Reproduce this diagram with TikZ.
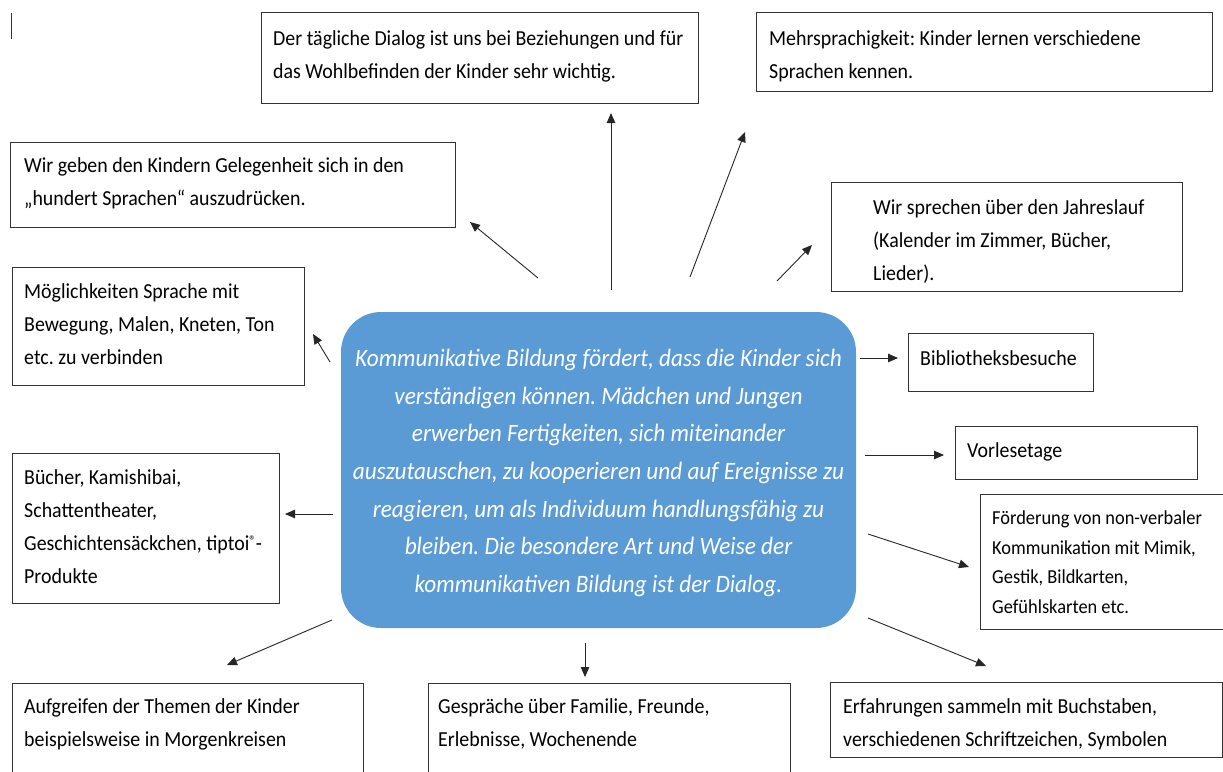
\documentclass[tikz,border=0pt]{standalone}
\usepackage{fontspec}
\setmainfont[FakeStretch=0.93]{Carlito}
\usetikzlibrary{arrows.meta}

\definecolor{hubblue}{HTML}{5B9BD5}
\frenchspacing

\tikzset{
    box/.style={draw=black!80, line width=0.9pt, anchor=north west, inner sep=0pt},
    txt/.style={anchor=north west, align=left, inner sep=0pt, font=\fontsize{21.4}{33}\selectfont},
    smalltxt/.style={txt, font=\fontsize{19.8}{29.5}\selectfont},
    hub/.style={fill=hubblue, rounded corners=40pt, minimum width=515pt, minimum height=316pt, inner sep=0pt},
    hubtxt/.style={inner sep=0pt, text=white, align=center, font=\itshape\fontsize{25}{37.7}\selectfont},
    arr/.style={-{Triangle[length=10pt,width=8.5pt]}, line width=0.9pt, black!85},
}

\begin{document}
\begin{tikzpicture}[x=1pt,y=-1pt]

    % Page area
    \clip (0,0) rectangle (1223,771);
    \draw[line width=0.9pt, black!80] (11,13) -- (11,39);

    % Central box
    \node[hub] (hub) at (598.5,470) {};
    \node[hubtxt] (hub-txt) at ([yshift=-3pt]hub.center) {Kommunikative Bildung fördert, dass die Kinder sich\\
        verständigen können. Mädchen und Jungen\\
        erwerben Fertigkeiten, sich miteinander\\
        auszutauschen, zu kooperieren und auf Ereignisse zu\\
        reagieren, um als Individuum handlungsfähig zu\\
        bleiben. Die besondere Art und Weise der\\
        kommunikativen Bildung ist der Dialog.};

    % Boxes on top
    \node[box, minimum width=437pt, minimum height=91pt] (dialog) at (261,12) {};
    \node[txt] (dialog-txt) at ([shift={(12,18)}]dialog.north west)
        {Der tägliche Dialog ist uns bei Beziehungen und für\\das Wohlbefinden der Kinder sehr wichtig.};

    \node[box, minimum width=456pt, minimum height=79pt] (lang) at (756,12) {};
    \node[txt] (lang-txt) at ([shift={(13,18)}]lang.north west)
        {Mehrsprachigkeit: Kinder lernen verschiedene\\Sprachen kennen.};

    % Boxes on the left
    \node[box, minimum width=445pt, minimum height=85pt] (hundred) at (10,142) {};
    \node[txt] (hundred-txt) at ([shift={(14,15)}]hundred.north west)
        {Wir geben den Kindern Gelegenheit sich in den\\„hundert Sprachen“ auszudrücken.};

    \node[box, minimum width=292pt, minimum height=118pt] (motion) at (12,267) {};
    \node[txt] (motion-txt) at ([shift={(12,16)}]motion.north west)
        {Möglichkeiten Sprache mit\\Bewegung, Malen, Kneten, Ton\\etc. zu verbinden};

    \node[box, minimum width=267pt, minimum height=150pt] (books) at (12,453) {};
    \node[txt] (books-txt) at ([shift={(12,16)}]books.north west)
        {Bücher, Kamishibai,\\Schattentheater,\\Geschichtensäckchen, tiptoi{\fontsize{14}{14}\selectfont\raisebox{5pt}{®}}-\\Produkte};

    % Boxes on the right
    \node[box, minimum width=351pt, minimum height=109pt] (year) at (831,182) {};
    \node[txt] (year-txt) at ([shift={(42,17)}]year.north west)
        {Wir sprechen über den Jahreslauf\\(Kalender im Zimmer, Bücher,\\Lieder).};

    \node[box, minimum width=185pt, minimum height=58pt] (library) at (908,333) {};
    \node[txt] (library-txt) at ([shift={(12,17)}]library.north west) {Bibliotheksbesuche};

    \node[box, minimum width=242pt, minimum height=53pt] (reading) at (955,426) {};
    \node[txt] (reading-txt) at ([shift={(12,16)}]reading.north west) {Vorlesetage};

    \node[box, minimum width=260pt, minimum height=135pt] (signs) at (980,494) {};
    \node[smalltxt] (signs-txt) at ([shift={(12,17)}]signs.north west)
        {Förderung von non-verbaler\\Kommunikation mit Mimik,\\Gestik, Bildkarten,\\Gefühlskarten etc.};

    % Boxes at the bottom
    \node[box, minimum width=351pt, minimum height=110pt] (topics) at (12,683) {};
    \node[txt] (topics-txt) at ([shift={(12,15)}]topics.north west)
        {Aufgreifen der Themen der Kinder\\beispielsweise in Morgenkreisen};

    \node[box, minimum width=362pt, minimum height=110pt] (talks) at (428,683) {};
    \node[txt] (talks-txt) at ([shift={(10,15)}]talks.north west)
        {Gespräche über Familie, Freunde,\\Erlebnisse, Wochenende};

    \node[box, minimum width=392pt, minimum height=75pt] (letters) at (830,682) {};
    \node[txt] (letters-txt) at ([shift={(13,16)}]letters.north west)
        {Erfahrungen sammeln mit Buchstaben,\\verschiedenen Schriftzeichen, Symbolen};

    % Define the coordinates for the arrow tails and tips
    \coordinate (dialog-from) at (611,290);   \coordinate (dialog-to) at (611,113);
    \coordinate (lang-from) at (690,277);     \coordinate (lang-to) at (745,132);
    \coordinate (hundred-from) at (538,278);  \coordinate (hundred-to) at (470,222);
    \coordinate (year-from) at (777,281);     \coordinate (year-to) at (812,245);
    \coordinate (motion-from) at (330,362);   \coordinate (motion-to) at (313,334);
    \coordinate (library-from) at (860,358);  \coordinate (library-to) at (898,358);
    \coordinate (reading-from) at (865,455);  \coordinate (reading-to) at (944,455);
    \coordinate (signs-from) at (868,534);    \coordinate (signs-to) at (969,567);
    \coordinate (books-from) at (333,514);    \coordinate (books-to) at (285,514);
    \coordinate (topics-from) at (332,620);   \coordinate (topics-to) at (227,665);
    \coordinate (talks-from) at (585,643);    \coordinate (talks-to) at (585,677);
    \coordinate (letters-from) at (868,618);  \coordinate (letters-to) at (986,666);

    % Draw the arrows
    \foreach \n in {dialog,lang,hundred,year,motion,library,reading,signs,books,topics,talks,letters}
        \draw[arr] (\n-from) -- (\n-to);

\end{tikzpicture}
\end{document}
